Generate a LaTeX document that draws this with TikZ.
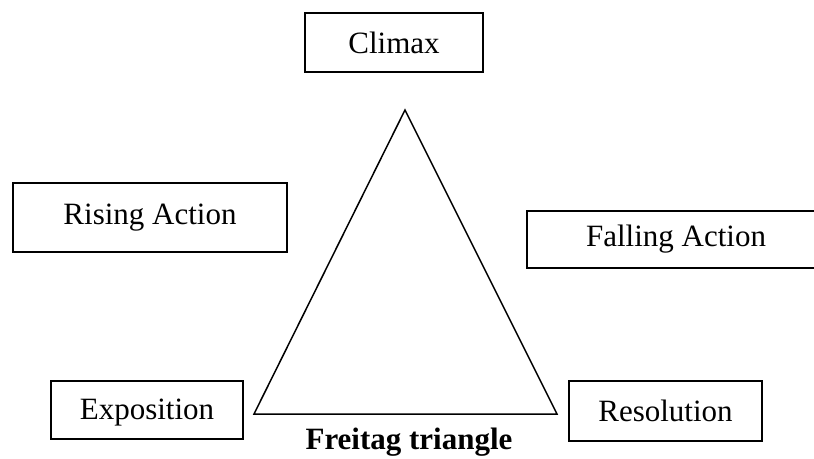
\documentclass[tikz,border=0pt]{standalone}
\usepackage{fontspec}
\setmainfont{Liberation Serif}
\begin{document}
\begin{tikzpicture}[x=1pt,y=-1pt,
    stage/.style={draw,rectangle,line width=1.6pt,inner sep=0pt,font=\fontsize{31}{36}\selectfont}]
        \useasboundingbox (0,0) rectangle (814,458);
        \clip (0,0) rectangle (814,458);
        % Define the nodes for the stages
        \node[stage,minimum width=178pt,minimum height=59pt] (climax)     at (394,42.5)  {Climax};
        \node[stage,minimum width=274pt,minimum height=69pt] (rising)     at (150,217.5) {Rising Action};
        \node[stage,minimum width=298pt,minimum height=57pt] (falling)    at (676,239.5) {Falling Action};
        \node[stage,minimum width=192pt,minimum height=58pt,text depth=2pt] (exposition) at (147,410) {Exposition};
        \node[stage,minimum width=193pt,minimum height=60pt] (resolution) at (665.5,411) {Resolution};
        % Define the corners of the triangle
        \coordinate (apex)  at (405,110);
        \coordinate (left)  at (254,414);
        \coordinate (right) at (557,414);
        \draw[line width=1.5pt] (apex) -- (left) -- (right) -- cycle;
        \node[anchor=base,inner sep=0pt,font=\bfseries\fontsize{31}{36}\selectfont] (title) at (409,449) {Freitag triangle};
    \end{tikzpicture}
\end{document}
